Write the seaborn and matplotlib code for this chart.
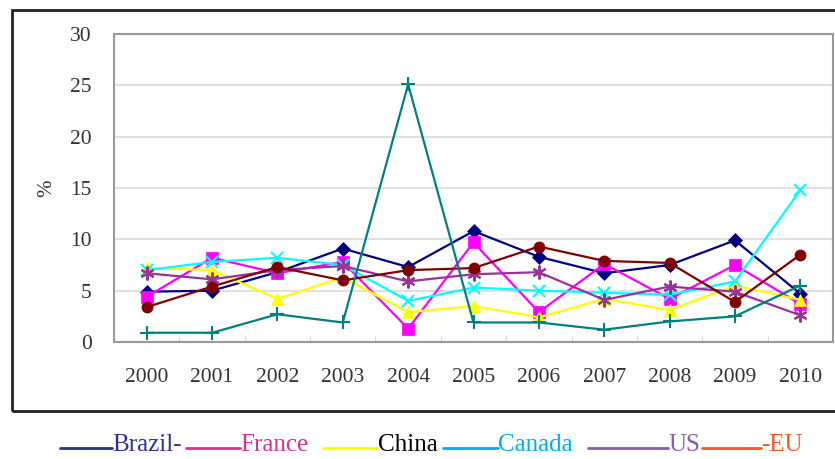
import matplotlib
matplotlib.use("Agg")
import matplotlib.pyplot as plt
import seaborn as sns
import pandas as pd
from matplotlib.lines import Line2D
from matplotlib.patches import Rectangle

years = ["2000", "2001", "2002", "2003", "2004", "2005", "2006", "2007", "2008", "2009", "2010"]
brazil = [4.9, 5.0, 6.8, 9.1, 7.3, 10.8, 8.3, 6.7, 7.5, 9.9, 4.7]
france = [4.4, 8.2, 6.7, 7.8, 1.3, 9.7, 2.9, 7.6, 4.2, 7.5, 3.7]
china = [7.2, 7.0, 4.2, 6.3, 2.9, 3.5, 2.4, 4.2, 3.1, 5.5, 4.1]
canada = [7.0, 7.8, 8.2, 7.5, 4.0, 5.3, 5.0, 4.8, 4.6, 5.9, 14.8]
us = [6.7, 6.1, 7.0, 7.4, 5.9, 6.6, 6.8, 4.1, 5.4, 4.9, 2.6]
eu = [3.4, 5.4, 7.3, 6.0, 7.0, 7.2, 9.3, 7.9, 7.7, 3.9, 8.5]
other = [0.9, 0.9, 2.7, 1.9, 25.1, 1.9, 1.9, 1.2, 2.0, 2.5, 5.5]

series_names = ["Brazil", "France", "China", "Canada", "US", "EU", "Other"]
series_vals = [brazil, france, china, canada, us, eu, other]
line_colors = {"Brazil": "#000080", "France": "#ff00ff", "China": "#ffff00",
               "Canada": "#00ffff", "US": "#993399", "EU": "#800000", "Other": "#008080"}
markers = {"Brazil": "D", "France": "s", "China": "^", "Canada": "x",
           "US": (6, 2, 0), "EU": "o", "Other": "+"}
msizes = {"Brazil": 7, "France": 8, "China": 9, "Canada": 9, "US": 10, "EU": 8, "Other": 10}

legend_labels = ["Brazil", "France", "China", "Canada", "US", "EU"]
legend_colors = ["#2e3192", "#d6338a", "#ffff00", "#00aeef", "#8560a8", "#f15a24"]
text_colors = ["#2e3192", "#d6338a", "#000000", "#00aeef", "#8560a8", "#f15a24"]

rows = []
for name, vals in zip(series_names, series_vals):
    for i, (y, v) in enumerate(zip(years, vals)):
        rows.append({"idx": i, "year": y, "value": v, "series": name})
df = pd.DataFrame(rows)

sns.set_style("white")
plt.rcParams["font.family"] = ["Liberation Serif", "DejaVu Serif"]

fig = plt.figure(figsize=(8.35, 4.59), dpi=100)
ax = fig.add_axes([114 / 835, 1 - 342 / 459, (833 - 114) / 835, (342 - 34) / 459])

for name in series_names:
    sub = df[df["series"] == name]
    sns.lineplot(data=sub, x="idx", y="value", ax=ax, color=line_colors[name],
                 marker=markers[name], markersize=msizes[name], linewidth=1.6,
                 markeredgecolor=line_colors[name], markeredgewidth=1.5 if name in ("Canada", "US", "Other") else 0.5,
                 legend=False, zorder=3)

ax.set_xlim(-0.5, 10.5)
ax.set_ylim(0, 30)
ax.set_yticks([0, 5, 10, 15, 20, 25, 30])
ax.set_xticks(range(len(years)))
ax.set_xticklabels(years)
ax.set_xticks([i + 0.5 for i in range(len(years) - 1)], minor=True)
ax.yaxis.grid(True, color="#e0e0e0", linewidth=1.5)
ax.set_axisbelow(True)
for s in ax.spines.values():
    s.set_color("#999999")
    s.set_linewidth(1.5)
ax.tick_params(axis="x", which="major", length=0, pad=19, labelsize=15.5, labelcolor="#333333")
ax.tick_params(axis="x", which="minor", direction="in", length=4, color="#cccccc", bottom=True)
ax.tick_params(axis="y", length=0, pad=16, labelsize=15.5, labelcolor="#333333")
ax.set_xlabel("")
ax.set_ylabel("%", fontsize=15, color="#333333", labelpad=10)

# outer frame
fig.patches.append(Rectangle((12 / 835, 1 - 411 / 459), 830 / 835, (411 - 10) / 459,
                             transform=fig.transFigure, fill=False, edgecolor="#222222",
                             linewidth=2, clip_on=False))

# custom legend
dash_spans = [(60, 112), (186, 240), (323, 378), (443, 498), (588, 668), (702, 761)]
text_x = [112, 240, 378, 498, 668, 761]
ly_line = 1 - 448 / 459
ly_text = 1 - 445 / 459
for (x0, x1), tx, lab, lc, tc in zip(dash_spans, text_x, legend_labels, legend_colors, text_colors):
    fig.add_artist(Line2D([x0 / 835, x1 / 835], [ly_line, ly_line], transform=fig.transFigure,
                          color=lc, linewidth=2))
    t = lab + "-" if lab in ("Brazil",) else lab
    if lab == "EU":
        t = "-EU"
    fig.text(tx / 835, ly_text, t, color=tc, fontsize=18, ha="left", va="center")

fig.savefig("out.png", dpi=100)
